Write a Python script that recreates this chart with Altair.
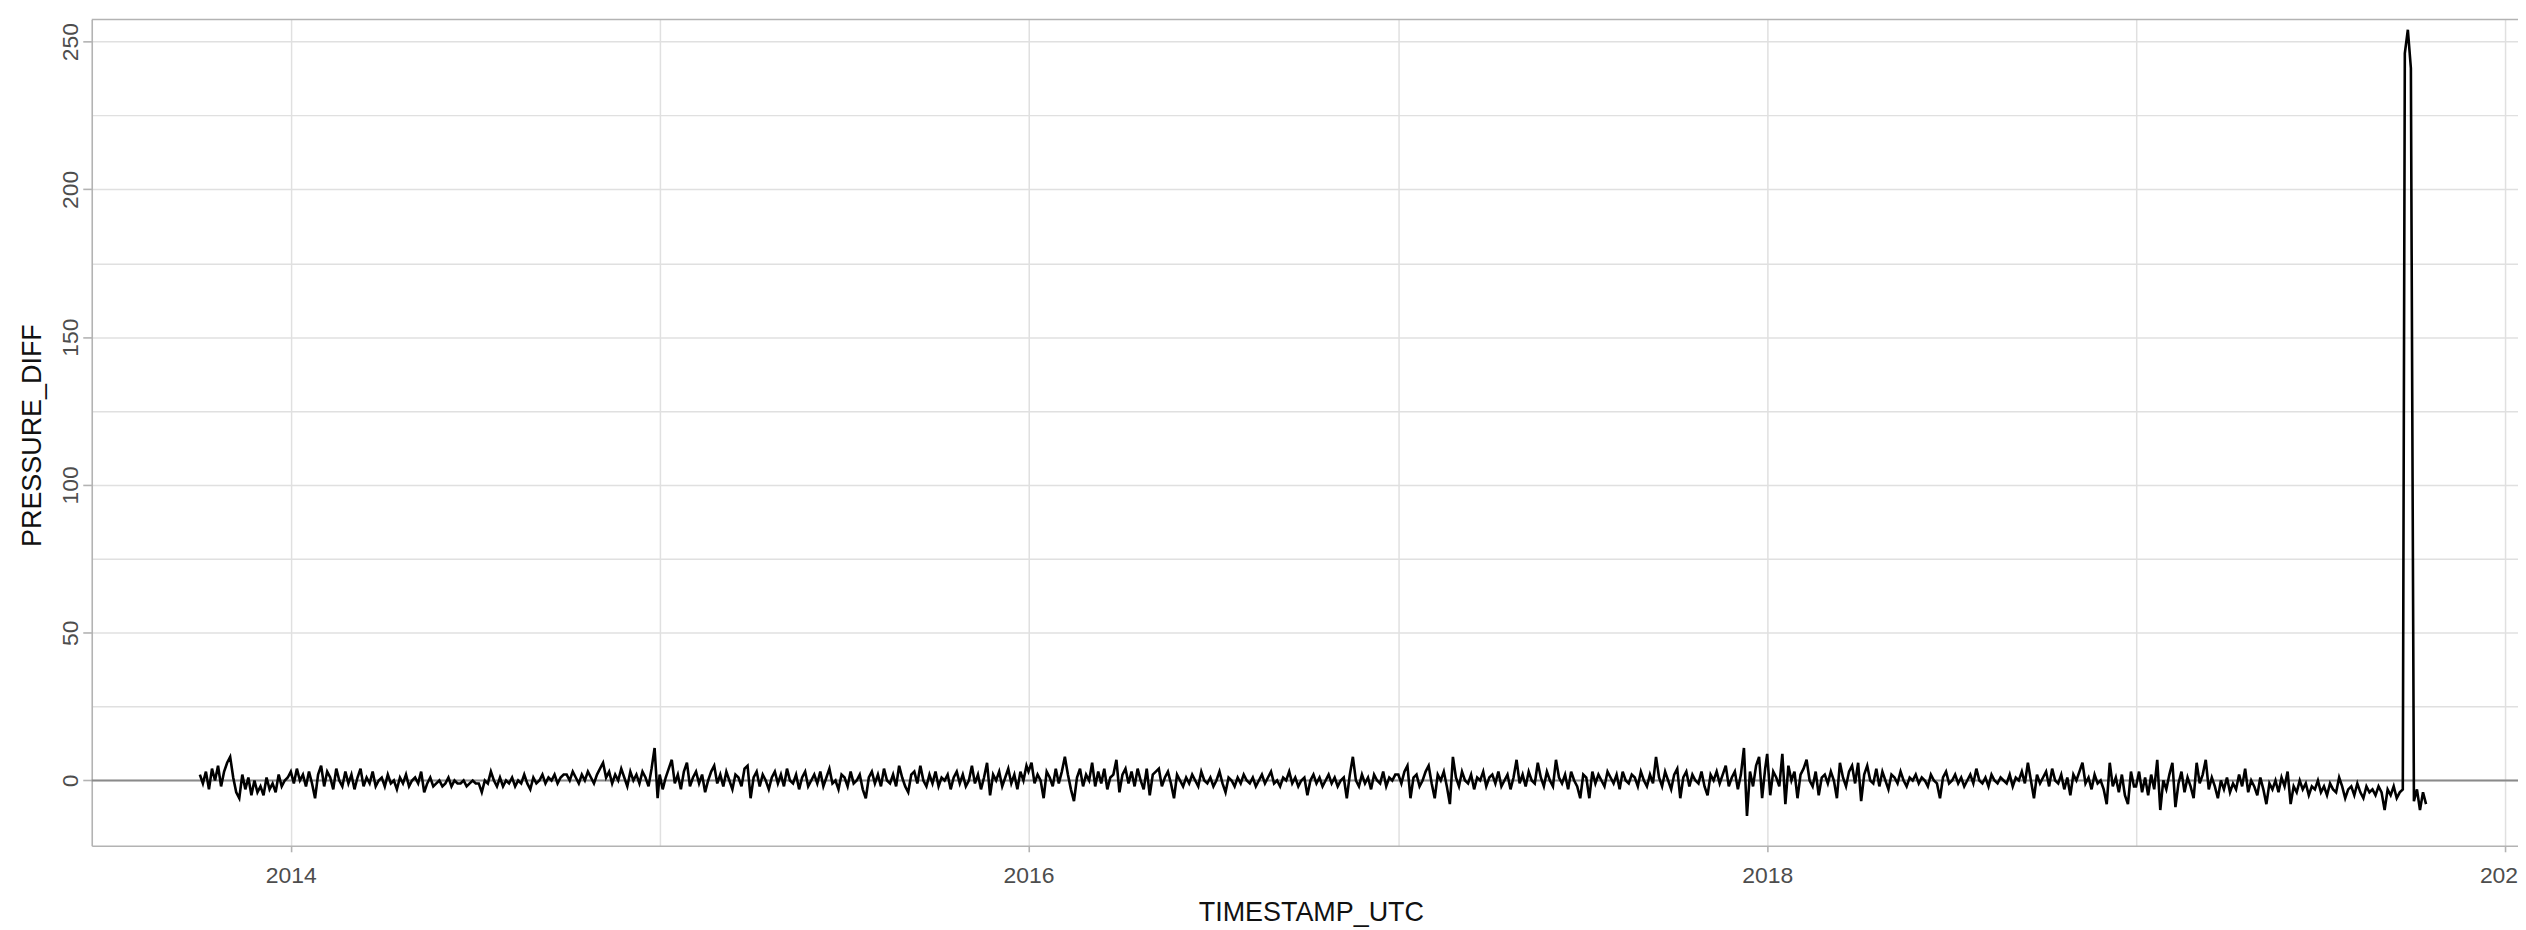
import altair as alt
import pandas as pd

# ---- data: PRESSURE_DIFF, one value every 3 days per segment ----
seg_2013_q4 = [2, -1, 3, -3, 4, 0, 5, -2, 3, 6, 8, 1, -4, -6, 2, -3, 1, -5, 0, -4,
               -2, -5, 1, -3, -1, -4, 2, -2, 0, 1]
seg_2014_q1 = [3, -1, 4, 0, 2, -2, 3, -1, -6, 2, 5, -2, 3, 1, -3, 4, 0, -2, 3, -1,
               2, -3, 1, 4, -2, 1, -1, 3, -2, 0]
seg_2014_q2q3 = [1, -2, 2, -1, 0, -3, 1, -1, 2, -2, 0, 1, -1, 3, -4, -1, 1, -2, -1, 0,
                 -2, -1, 1, -2, 0, -1, -1, 0, -2, -1, 0, -1, -1, -4, 0, -1, 3, 0, -2, 1,
                 -2, 0, -1, 1, -2, 0, -1, 2, -1, -3, 1, -1, 0, 2, -1, 1, 0, 2, -1, 1, 2]
seg_2014_q4 = [2, 0, 3, 1, -1, 2, 0, 3, 1, -1, 2, 4, 6, 1, 3, -1, 2, 0, 4, 1,
               -2, 3, 0, 2, -1, 3, 1, -2, 4, 11, -6]
seg_2015 = [2, -3, 1, 4, 7, -1, 2, -3, 3, 6, -2, 1, 3, -1, 2, -4, 0, 3, 5, -1,
            2, -2, 3, 0, -3, 2, 1, -2, 4, 5, -6, 1, 3, -2, 2, 0, -3, 1, 3, -1,
            2, -2, 4, 0, -1, 2, -3, 1, 3, -2, 0, 2, -1, 3, -2, 1, 4, -1, 0, -3,
            2, 1, -2, 3, -1, 0, 2, -3, -6, 1, 3, -1, 2, -2, 4, 0, -1, 2, -2, 5,
            1, -2, -4, 2, 3, -1, 5, 0, -2, 2, -1, 3, -2, 1, 0, 2, -3, 1, 3, -1,
            2, -2, 0, 5, -1, 2, -3, 1, 6, -5, 2, 0, 3, -2, 1, 4, -1, 2, -3, 3, 0, 5]
seg_2016 = [3, 6, -1, 2, 0, -6, 3, 1, -2, 4, -1, 3, 8, 2, -3, -7, 1, 4, -2, 2,
            0, 6, -2, 3, -1, 4, -3, 1, 2, 7, -4, 2, 4, -1, 3, -2, 4, 0, -3, 4,
            -5, 2, 3, 4, -2, 1, 3, -1, -6, 2, 0, -2, 1, -1, 2, 0, -2, 3, 0, -1,
            1, -2, 0, 3, -1, -4, 1, 0, -2, 1, -1, 2, 0, -1, 1, -2, 0, 2, -1, 1,
            3, -1, 0, -2, 1, 0, 3, -1, 1, -2, 0, 1, -5, 0, 2, -1, 1, -2, 0, 2,
            -1, 1, -2, 0, 1, -6, 2, 8, 0, -2, 2, -1, 1, -3, 2, 0, -1, 3, -2, 1, 0, 2]
seg_2017 = [2, -1, 3, 5, -6, 1, 2, -2, 0, 3, 5, -1, -6, 2, 0, 3, -2, -8, 8, 1,
            -2, 3, 0, -1, 2, -3, 1, 0, 3, -2, 1, 2, -1, 3, -2, 0, 2, -3, 1, 7,
            -1, 2, -2, 3, 0, -1, 6, 1, -2, 3, 0, -2, 7, 1, -1, 2, -3, 3, 0, -2,
            -6, 2, 1, -6, 3, -1, 2, 0, -2, 3, 1, -1, 2, -3, 3, 0, -1, 2, 1, -2,
            3, 0, -2, 2, -1, 8, 1, -2, 3, 0, -3, 2, 4, -6, 1, 3, -2, 2, 0, -1,
            3, -2, -5, 2, 0, 3, -1, 2, 5, -2, 1, 3, -3, 2, 11, -12, 3, -2, 5, 8, -6, 4]
seg_2018 = [9, -5, 3, 1, -2, 9, -8, 5, 0, 3, -6, 2, 4, 7, 0, -2, 3, -5, 1, 2,
            -1, 3, 0, -6, 6, 1, -2, 3, 5, -1, 6, -7, 2, 5, 0, -1, 4, -2, 3, 0,
            -3, 2, 1, -1, 3, 0, -2, 1, 0, 2, -1, 1, 0, -2, 2, 0, -1, -6, 1, 3,
            -1, 0, 2, -1, 1, -2, 0, 2, -1, 4, 0, -1, 1, -2, 2, 0, -1, 1, 0, -1,
            2, -2, 1, 0, 3, -1, 6, 0, -6, 2, -1, 1, 3, -2, 4, 0, -1, 2, -3, 1,
            -5, 2, 0, 3, 6, -1, 1, -3, 2, -1, 0, -3, -8, 6, -2, 1, -4, 2, -5, -8, 3, -2]
seg_2019 = [-2, 3, -4, 1, -5, 2, -3, 7, -10, 0, -3, 2, 6, -9, -1, 3, -4, 1, -2, -6,
            6, -1, 2, 7, -3, 1, -2, -6, 0, -3, 1, -4, -1, -3, 2, -2, 4, -4, 0, -2,
            -5, 1, -3, -8, -1, -3, 0, -4, 1, -2, 3, -8, -2, -4, 0, -3, -1, -5, -2, -3,
            0, -4, -2, -5, -1, -3, -4, 1, -2, -6, -3, -2, -5, -1, -4, -6, -2, -4, -3, -5,
            -2, -4, -10, -3, -5, -2, -6, -4, -3]
seg_2019_spike = [246, 254, 241, -7, -3, -10, -4, -8]

segment_starts = ["2013-10-03", "2014-01-01", "2014-04-01", "2014-10-01", "2015-01-01",
                  "2016-01-01", "2017-01-01", "2018-01-01", "2019-01-01", "2019-09-24"]
segment_values = [seg_2013_q4, seg_2014_q1, seg_2014_q2q3, seg_2014_q4, seg_2015,
                  seg_2016, seg_2017, seg_2018, seg_2019, seg_2019_spike]
series_end = "2019-10-16"
step_days = 3

zero_line = [0]

rows = []
for i, (start, vals) in enumerate(zip(segment_starts, segment_values)):
    s = pd.Timestamp(start)
    nxt = pd.Timestamp(segment_starts[i + 1] if i + 1 < len(segment_starts) else series_end)
    for k, v in enumerate(vals):
        d = s + pd.Timedelta(days=step_days * k)
        if d >= nxt:
            break
        rows.append({"TIMESTAMP_UTC": d.strftime("%Y-%m-%d"), "PRESSURE_DIFF": v})
df = pd.DataFrame(rows)
zero_df = pd.DataFrame({"PRESSURE_DIFF": zero_line})
border_df = pd.DataFrame({"b": [0]})

W, H = 2434, 829
FONT = "Liberation Sans"

x_scale = alt.Scale(
    type="utc",
    domain=[alt.DateTime(year=2013, month=6, date=18, utc=True),
            alt.DateTime(year=2020, month=1, date=14, utc=True)],
    nice=False,
)
y_scale = alt.Scale(domain=[-22.1, 257.5], nice=False, zero=False)

x_axis = alt.Axis(
    title="TIMESTAMP_UTC",
    values=[alt.DateTime(year=y, month=1, date=1, utc=True) for y in range(2014, 2021)],
    labelExpr="utcyear(datum.value) % 2 === 0 ? utcFormat(datum.value, '%Y') : ''",
    tickOpacity={"condition": {"test": "utcyear(datum.value) % 2 !== 0", "value": 0}, "value": 1},
    tickSize=6,
    labelPadding=31,
    labelBaseline="alphabetic",
    labelFlush=False,
    labelOverlap=False,
    titleX=1223,
    titleY=75,
    titleBaseline="alphabetic",
    titleAlign="center",
)
y_axis = alt.Axis(
    title="PRESSURE_DIFF",
    values=list(range(0, 251, 25)),
    labelExpr="datum.value % 50 === 0 ? datum.label : ''",
    tickOpacity={"condition": {"test": "datum.value % 50 !== 0", "value": 0}, "value": 1},
    tickSize=9,
    labelPadding=5,
    labelAngle=270,
    labelAlign="center",
    labelBaseline="alphabetic",
    labelOverlap=False,
    labelFlush=False,
    titleAngle=270,
    titleX=-51,
    titleY=417,
    titleBaseline="alphabetic",
    titleAlign="center",
)

zero = alt.Chart(zero_df).mark_rule(color="#8a8a8a", strokeWidth=2).encode(
    y=alt.Y("PRESSURE_DIFF:Q", scale=y_scale, axis=y_axis)
)
line = alt.Chart(df).mark_line(color="black", strokeWidth=2.6, strokeJoin="miter").encode(
    x=alt.X("TIMESTAMP_UTC:T", scale=x_scale, axis=x_axis),
    y=alt.Y("PRESSURE_DIFF:Q", scale=y_scale, axis=y_axis),
)
border = alt.Chart(border_df).mark_rule(color="#b3b3b3", strokeWidth=1.6).encode(
    x=alt.value(0), x2=alt.value(W), y=alt.value(0)
)

chart = (
    alt.layer(zero, line, border)
    .properties(
        width=W,
        height=H,
        autosize=alt.AutoSizeParams(type="none"),
        padding={"left": 84, "top": 10, "right": 0, "bottom": 82},
        background="white",
    )
    .configure_view(stroke="transparent")
    .configure_axis(
        labelFont=FONT,
        titleFont=FONT,
        labelFontSize=23,
        titleFontSize=27,
        labelColor="#4d4d4d",
        titleColor="#111111",
        titleFontWeight="normal",
        domainColor="#b3b3b3",
        domainWidth=1.6,
        tickColor="#b3b3b3",
        tickWidth=1.6,
        gridColor="#e0e0e0",
        gridWidth=1.5,
    )
)

chart.save("out.html", embed_options={"renderer": "svg", "actions": False})
